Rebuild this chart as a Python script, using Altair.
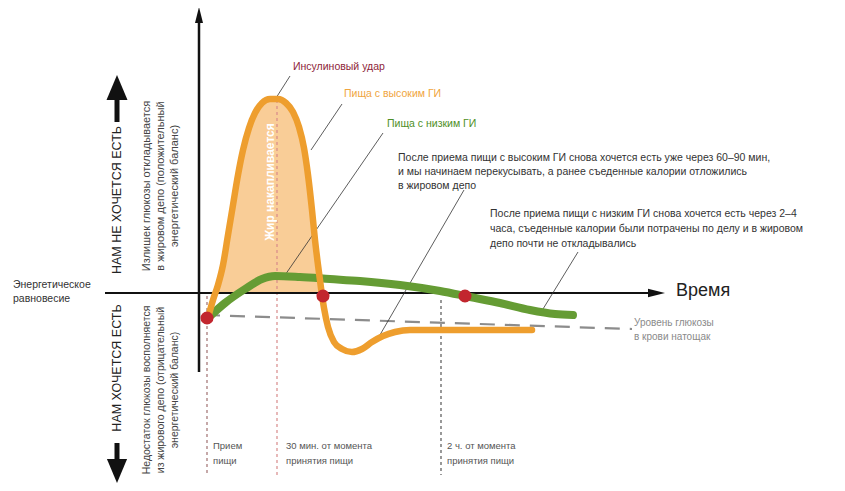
import altair as alt
import pandas as pd

# ---------------- data (schematic units: x = time position, y = glucose level, top-down) -------------
orange_x = [208, 213, 218, 223, 228, 233, 238, 243, 249, 255, 262, 270, 278, 286, 293, 299, 304, 308,
            312, 315, 318, 321, 324, 328, 334, 342, 352, 362, 372, 383, 395, 410, 460, 532]
orange_y = [318, 300, 285, 265, 235, 205, 175, 150, 128, 113, 103, 99, 99, 103, 112, 127, 148, 175,
            210, 240, 265, 288, 308, 327, 342, 349, 352, 349, 342, 336, 332, 330, 330, 330]
green_x = [208, 225, 245, 262, 275, 300, 330, 360, 400, 440, 470, 500, 530, 555, 573]
green_y = [318, 303, 289, 279, 276, 277, 279, 281, 285, 291, 297, 303, 310, 314, 315]
dots_x = [207, 323, 465]
dots_y = [318, 296, 296]
baseline_y = 293          # energy balance level
fasting_x = [205, 632]
fasting_y = [315, 329]

marks_x = [207, 277, 441]            # time markers
marks_top = [296, 100, 300]
marks_bottom = 475

bottom_labels = [("Прием", "пищи"), ("30 мин. от момента", "принятия пищи"), ("2 ч. от момента", "принятия пищи")]
bottom_labels_x = [213, 286, 447]

block1 = ["После приема пищи с высоким ГИ снова хочется есть уже через 60–90 мин,",
          "и мы начинаем перекусывать, а ранее съеденные калории отложились",
          "в жировом депо"]
block2 = ["После приема пищи с низким ГИ снова хочется есть через 2–4",
          "часа, съеденные калории были потрачены по делу и в жировом",
          "депо почти не откладывались"]
up_text = ["Излишек глюкозы откладывается", "в жировом депо  (положительный", "энергетический баланс)"]
down_text = ["Недостаток глюкозы восполняется", "из жирового депо (отрицательный", "энергетический баланс)"]

# leader lines: (x1, y1, x2, y2)
leaders = [(290, 76, 276, 98), (342, 104, 311, 150), (383, 133, 283, 278),
           (464, 190, 377, 340), (578, 252, 543, 309)]

W, H = 829, 475
XS = alt.Scale(domain=[8, 8 + W], nice=False, zero=False)
YS = alt.Scale(domain=[8, 8 + H], nice=False, zero=False, reverse=True)
FONT = "Liberation Sans"


def X(f="x"):
    return alt.X(f"{f}:Q", scale=XS, axis=None)


def Y(f="y"):
    return alt.Y(f"{f}:Q", scale=YS, axis=None)


def seg_df(rows):
    return pd.DataFrame(rows, columns=["x", "y", "x2", "y2"])


def rule(rows, **kw):
    return alt.Chart(seg_df(rows)).mark_rule(**kw).encode(
        x=X(), y=Y(), x2=alt.X2("x2:Q"), y2=alt.Y2("y2:Q"))


def text(rows, **kw):
    df = pd.DataFrame(rows, columns=["x", "y", "t"])
    base = dict(font=FONT, align="left", baseline="middle")
    base.update(kw)
    return alt.Chart(df).mark_text(**base).encode(x=X(), y=Y(), text="t:N")


def tri(x, y, path, size):
    return alt.Chart(pd.DataFrame({"x": [x], "y": [y]})).mark_point(
        shape=path, size=size, filled=True, color="#111", opacity=1, strokeWidth=0
    ).encode(x=X(), y=Y())


orange = pd.DataFrame({"x": orange_x, "y": orange_y})
green = pd.DataFrame({"x": green_x, "y": green_y})
hump = orange[(orange.x >= 216) & (orange.x <= 322)].copy()
hump["y"] = hump["y"].clip(upper=baseline_y)
hump["y2"] = baseline_y

layers = []
# fat-accumulation fill
layers.append(alt.Chart(hump).mark_area(color="#F8C88C", opacity=0.9, interpolate="monotone").encode(
    x=X(), y=Y(), y2=alt.Y2("y2:Q")))
# time marker dashed verticals
mk_colors = ["#a07070", "#d88a8a", "#555555"]
for mx, mt, c in zip(marks_x, marks_top, mk_colors):
    layers.append(rule([(mx, mt, mx, marks_bottom)], color=c, strokeWidth=1.2, strokeDash=[3, 3]))
# fasting level dashed line
layers.append(rule([(fasting_x[0], fasting_y[0], fasting_x[1], fasting_y[1])],
                   color="#8c8c8c", strokeWidth=2.2, strokeDash=[15, 10]))
# axes
layers.append(rule([(199, 22, 199, 372)], color="#111", strokeWidth=2.5))
layers.append(rule([(105, baseline_y, 650, baseline_y)], color="#111", strokeWidth=2.2))
layers.append(tri(199, 15, "M0,-1L0.5,1L-0.5,1Z", 256))
layers.append(tri(656.5, baseline_y, "M1,0L-1,-0.5L-1,0.5Z", 289))
# big side arrows
layers.append(rule([(117, 98, 117, 122)], color="#111", strokeWidth=5))
layers.append(tri(117, 87.5, "M0,-1L0.84,1L-0.84,1Z", 625))
layers.append(rule([(117, 443, 117, 462)], color="#111", strokeWidth=5))
layers.append(tri(117, 471, "M0,1L0.84,-1L-0.84,-1Z", 576))
# leader lines
layers.append(rule(leaders, color="#333", strokeWidth=0.8))
# curves
layers.append(alt.Chart(green).mark_line(color="#659C34", strokeWidth=8, interpolate="monotone",
                                         strokeCap="round").encode(x=X(), y=Y()))
layers.append(alt.Chart(orange).mark_line(color="#EE9E2E", strokeWidth=6.5, interpolate="monotone",
                                          strokeCap="round").encode(x=X(), y=Y()))
# red points
layers.append(alt.Chart(pd.DataFrame({"x": dots_x, "y": dots_y})).mark_circle(
    color="#C2262E", size=170, opacity=1).encode(x=X(), y=Y()))

# texts
layers.append(text([(270, 182, "Жир накапливается")], color="white", fontWeight="bold", fontSize=12,
                   angle=270, align="center"))
layers.append(text([(676, 291, "Время")], fontSize=18, color="#222"))
layers.append(text([(13, 285, "Энергетическое"), (13, 299, "равновесие")], fontSize=10.5, color="#333"))
layers.append(text([(634, 323, "Уровень глюкозы"), (634, 337, "в крови натощак")], fontSize=10, color="#8a8a8a"))
layers.append(text([(293, 67, "Инсулиновый удар")], fontSize=10.5, color="#8E1F3A"))
layers.append(text([(344, 94, "Пища с высоким ГИ")], fontSize=10.5, color="#F0A540"))
layers.append(text([(387, 124, "Пища с низким ГИ")], fontSize=10.5, color="#4F8F27"))
layers.append(text([(398, 158 + 14 * i, s) for i, s in enumerate(block1)], fontSize=10.5, color="#333"))
layers.append(text([(490, 214 + 15 * i, s) for i, s in enumerate(block2)], fontSize=10.5, color="#333"))
bl = []
for bx, (a, b) in zip(bottom_labels_x, bottom_labels):
    bl += [(bx, 446, a), (bx, 461, b)]
layers.append(text(bl, fontSize=9.5, color="#555"))
layers.append(text([(117, 200, "НАМ НЕ ХОЧЕТСЯ ЕСТЬ"), (117, 368, "НАМ ХОЧЕТСЯ ЕСТЬ")], fontSize=12.5,
                   color="#222", angle=270, align="center"))
layers.append(text([(147 + 14 * i, 186, s) for i, s in enumerate(up_text)], fontSize=11, color="#444",
                   angle=270, align="center"))
layers.append(text([(147 + 14 * i, 390, s) for i, s in enumerate(down_text)], fontSize=10.5, color="#444",
                   angle=270, align="center"))

chart = alt.layer(*layers).properties(
    width=W, height=H, padding=0, autosize=alt.AutoSizeParams(type="none")
).configure_view(stroke=None)

chart.save("out.html", embed_options={"renderer": "svg", "actions": False})
